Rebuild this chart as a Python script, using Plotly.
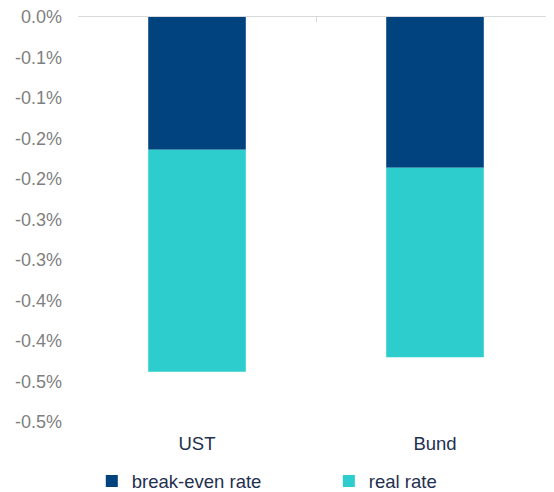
import plotly.graph_objects as go

categories = ["UST", "Bund"]
break_even = [-0.00164, -0.00186]
real_rate = [-0.00274, -0.00234]
tick_vals = [0, -0.0005, -0.0010, -0.0015, -0.0020, -0.0025, -0.0030, -0.0035, -0.0040, -0.0045, -0.0050]
tick_text = ["0.0%", "-0.1%", "-0.1%", "-0.2%", "-0.2%", "-0.3%", "-0.3%", "-0.4%", "-0.4%", "-0.5%", "-0.5%"]

font = "Liberation Sans, Arial, sans-serif"

fig = go.Figure()
fig.add_trace(go.Bar(x=categories, y=break_even, name="break-even rate", legend="legend",
                     marker=dict(color="#00437F", line=dict(width=0))))
fig.add_trace(go.Bar(x=categories, y=real_rate, name="real rate", legend="legend2",
                     marker=dict(color="#2DCDCD", line=dict(width=0))))
fig.add_trace(go.Scatter(x=categories, y=[0, 0], xaxis="x2", mode="markers",
                         marker=dict(opacity=0), showlegend=False, hoverinfo="skip"))

legend_common = dict(orientation="h", xanchor="left", yref="paper", y=-0.147,
                     yanchor="middle", bgcolor="rgba(0,0,0,0)",
                     font=dict(size=18.5, color="#1F3050"))

fig.update_layout(
    width=546, height=484,
    barmode="relative", bargap=0.59,
    paper_bgcolor="white", plot_bgcolor="white",
    margin=dict(l=70, r=0, t=9, b=70, autoexpand=False),
    font=dict(family=font),
    xaxis=dict(type="category", categoryarray=categories, showline=False, ticks="",
               showgrid=False, zeroline=False, ticklabelstandoff=8, automargin=False,
               tickfont=dict(size=18.5, color="#1F3050")),
    xaxis2=dict(type="category", categoryarray=categories, overlaying="x", side="top",
                matches="x", showline=True, linecolor="#D9D9D9", linewidth=1,
                ticks="inside", tickson="boundaries", ticklen=5, tickcolor="#D9D9D9",
                showticklabels=False, showgrid=False, zeroline=False, automargin=False),
    yaxis=dict(range=[-0.0050, 0], tickvals=tick_vals, ticktext=tick_text,
               showgrid=False, zeroline=False, showline=False, ticklabelstandoff=15,
               ticklabeloverflow="allow", automargin=False,
               tickfont=dict(size=18, color="#7F7F7F")),
    legend=dict(x=0.029, **legend_common),
    legend2=dict(x=0.527, **legend_common),
)

fig.write_html("out.html")
